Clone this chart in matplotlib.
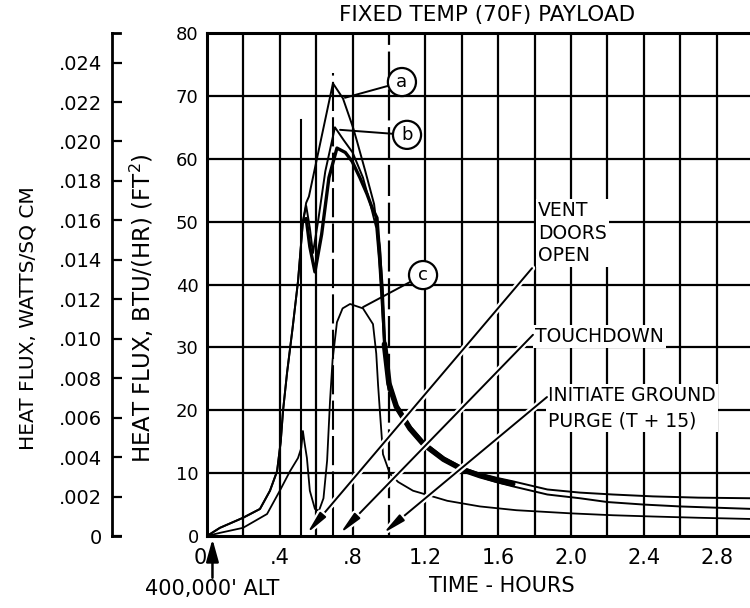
import numpy as np
import matplotlib
matplotlib.use("Agg")
import matplotlib.pyplot as plt
import matplotlib.patheffects as pe

# curva (a)
a_t = [0, 0.071, 0.198, 0.291, 0.346, 0.385, 0.405, 0.418, 0.44, 0.47, 0.50, 0.527, 0.545, 0.56,
       0.692, 0.747, 0.802, 0.824, 0.87, 0.918, 0.934, 0.951, 0.962, 0.975, 1.0, 1.04, 1.115, 1.19,
       1.30, 1.41, 1.50, 1.60, 1.68, 1.87, 2.05, 2.23, 2.45, 2.70, 3.0]
a_q = [0, 1.3, 2.9, 4.3, 7.2, 10.3, 15.0, 20.0, 26.0, 33.0, 40.5, 50.0, 53.0, 54.0,
       72.0, 69.6, 65.0, 62.8, 58.0, 52.8, 49.0, 45.8, 40.0, 32.0, 25.0, 21.0, 17.5, 15.0,
       12.5, 10.8, 9.9, 9.2, 8.7, 7.4, 6.9, 6.6, 6.3, 6.1, 6.0]

# curva (b)
b_t = [0, 0.071, 0.198, 0.291, 0.346, 0.385, 0.405, 0.418, 0.44, 0.47, 0.50, 0.527, 0.545, 0.565,
       0.582, 0.61, 0.65, 0.703, 0.75, 0.80, 0.857, 0.90, 0.93, 0.945, 0.96, 0.975, 1.0, 1.04,
       1.115, 1.19, 1.30, 1.41, 1.50, 1.60, 1.68, 1.87, 2.05, 2.20, 2.40, 2.60, 2.80, 3.0]
b_q = [0, 1.3, 2.9, 4.3, 7.2, 10.3, 15.0, 20.0, 26.0, 33.0, 40.5, 50.0, 52.5, 49.0,
       45.0, 50.0, 58.0, 65.0, 63.0, 61.0, 57.0, 52.5, 49.0, 44.0, 37.0, 30.0, 23.4, 20.2,
       16.8, 14.3, 12.0, 10.3, 9.4, 8.5, 7.9, 6.6, 6.0, 5.4, 5.0, 4.7, 4.5, 4.3]

# borde inferior de la banda (b)
b2_t = [0.527, 0.545, 0.565, 0.593, 0.63, 0.67, 0.714, 0.76, 0.797, 0.84, 0.879, 0.91, 0.934,
        0.951, 0.962, 0.975, 1.0]
b2_q = [50.0, 50.5, 46.0, 42.0, 48.0, 57.0, 61.7, 61.0, 59.6, 57.0, 54.4, 52.0, 50.6,
        43.7, 39.4, 31.0, 23.4]

# banda gruesa de la cola
band_t = [0.975, 1.0, 1.04, 1.115, 1.19, 1.30, 1.41, 1.50, 1.60, 1.68]
band_q = [30.5, 24.2, 20.6, 17.1, 14.6, 12.2, 10.5, 9.6, 8.8, 8.3]

# curva (c)
c_t = [0, 0.071, 0.198, 0.33, 0.40, 0.456, 0.50, 0.518, 0.527, 0.535, 0.549, 0.565, 0.593, 0.615,
       0.64, 0.66, 0.676, 0.69, 0.714, 0.745, 0.786, 0.857, 0.912, 0.93, 0.94, 0.951, 0.967,
       1.005, 1.05, 1.132, 1.25, 1.32, 1.50, 1.70, 2.0, 2.23, 2.45, 2.70, 3.0]
c_q = [0, 0.5, 1.3, 3.5, 7.2, 10.3, 12.4, 14.0, 16.7, 15.0, 12.4, 7.2, 4.3, 4.0,
       6.0, 12.0, 21.5, 28.0, 34.0, 36.2, 36.9, 36.2, 33.7, 29.0, 24.0, 19.4, 13.0,
       9.9, 8.6, 7.2, 6.2, 5.6, 4.7, 4.1, 3.6, 3.3, 3.1, 2.9, 2.7]

# lineas verticales (transitorios)
spike_t = [0.515, 0.692]
spike_top = [66.2, 73.6]

x_ticks = [0, 0.4, 0.8, 1.2, 1.6, 2.0, 2.4, 2.8]
x_tick_labels = ["0", ".4", ".8", "1.2", "1.6", "2.0", "2.4", "2.8"]
y_ticks = [0, 10, 20, 30, 40, 50, 60, 70, 80]
w_ticks = [0, 0.002, 0.004, 0.006, 0.008, 0.010, 0.012, 0.014, 0.016, 0.018, 0.020, 0.022, 0.024]
w_tick_labels = ["0", ".002", ".004", ".006", ".008", ".010", ".012", ".014", ".016",
                 ".018", ".020", ".022", ".024"]

W, H = 750, 608
fig = plt.figure(figsize=(7.5, 6.08), dpi=100)
fig.patch.set_facecolor("white")

ax = fig.add_axes([207 / W, 72 / H, 546 / W, 503 / H])
ax.set_xlim(0, 3.0)
ax.set_ylim(0, 80)

# cuadricula
for t in np.arange(0.2, 3.01, 0.2):
    ls = (0, (14, 3)) if abs(t - 1.0) < 1e-6 else "-"
    ax.axvline(t, color="black", lw=1.6, ls=ls, zorder=1)
for q in range(10, 80, 10):
    ax.axhline(q, color="black", lw=1.6, zorder=1)

ax.spines["right"].set_visible(False)
for s in ["left", "bottom", "top"]:
    ax.spines[s].set_linewidth(2.2)

ax.set_xticks(x_ticks)
ax.set_xticklabels(x_tick_labels, fontsize=15)
ax.get_xticklabels()[0].set_horizontalalignment("right")
ax.set_yticks(y_ticks)
ax.set_yticklabels([str(v) for v in y_ticks], fontsize=13)
ax.tick_params(axis="x", length=0, pad=9)
ax.tick_params(axis="y", length=0, pad=6)

ax.set_ylabel("HEAT FLUX, BTU/(HR) (FT$^2$)", fontsize=16.5)
ax.yaxis.set_label_coords((156 - 207) / 546, (536 - 308) / 503)
ax.set_xlabel("TIME - HOURS", fontsize=15)
ax.xaxis.set_label_coords((502 - 207) / 546, (536 - 576) / 503)

fig.text(487 / W, 1 - 15 / H, "FIXED TEMP (70F) PAYLOAD", fontsize=15.5, ha="center", va="center")

# curvas
ax.plot(a_t, a_q, color="black", lw=1.4, zorder=3)
ax.plot(b_t, b_q, color="black", lw=1.4, zorder=3)
ax.plot(b2_t, b2_q, color="black", lw=2.4, zorder=3)
ax.plot(band_t, band_q, color="black", lw=4, zorder=3, solid_capstyle="round")
ax.plot(c_t, c_q, color="black", lw=1.3, zorder=3)
ax.plot([spike_t[0]] * 2, [0, spike_top[0]], color="black", lw=1.5, zorder=3)
ax.plot([spike_t[1]] * 2, [0, spike_top[1]], color="black", lw=1.5, ls=(0, (14, 3)), zorder=3)

# etiquetas a, b, c
circ = dict(boxstyle="circle,pad=0.28", fc="white", ec="black", lw=1.6)
lead = dict(arrowstyle="-", lw=1.4, color="black", shrinkA=0, shrinkB=0)
ax.annotate("a", xy=(0.758, 69.7), xytext=(1.071, 72.2), fontsize=13, ha="center", va="center",
            bbox=circ, arrowprops=lead, zorder=5)
ax.annotate("b", xy=(0.731, 64.6), xytext=(1.099, 63.8), fontsize=13, ha="center", va="center",
            bbox=circ, arrowprops=lead, zorder=5)
ax.annotate("c", xy=(0.857, 36.4), xytext=(1.187, 41.5), fontsize=13, ha="center", va="center",
            bbox=circ, arrowprops=lead, zorder=5)

# eventos
white = dict(fc="white", ec="none", pad=1.5)
arr = dict(arrowstyle="-|>,head_length=0.75,head_width=0.13", mutation_scale=18, lw=1.4,
           color="black", shrinkA=0, shrinkB=0,
           path_effects=[pe.withStroke(linewidth=4.5, foreground="white")])

ax.text(1.819, 53.3, "VENT\nDOORS\nOPEN", fontsize=13.5, ha="left", va="top", linespacing=1.25,
        bbox=white, zorder=4)
ax.annotate("", xy=(0.549, 0.4), xytext=(1.786, 42.6), arrowprops=arr, zorder=4)

ax.text(1.802, 31.7, "TOUCHDOWN", fontsize=13.5, ha="left", va="center", bbox=white, zorder=4)
ax.annotate("", xy=(0.731, 0.4), xytext=(1.791, 32.0), arrowprops=arr, zorder=4)

ax.text(1.874, 23.8, "INITIATE GROUND\nPURGE (T + 15)", fontsize=13.5, ha="left", va="top",
        linespacing=1.4, bbox=white, zorder=4)
ax.annotate("", xy=(0.967, 0.4), xytext=(1.868, 22.1), arrowprops=arr, zorder=4)

# 400,000' ALT
ax.text(0.027, -0.105, "400,000' ALT", transform=ax.get_xaxis_transform(), fontsize=15,
        ha="center", va="center", clip_on=False)
ax.annotate("", xy=(0.03, -0.006), xycoords=ax.get_xaxis_transform(),
            xytext=(0.03, -0.083), textcoords=ax.get_xaxis_transform(), annotation_clip=False,
            arrowprops=dict(arrowstyle="-|>,head_length=0.9,head_width=0.25", mutation_scale=15,
                            lw=1.8, color="black", shrinkA=0, shrinkB=0))

# eje secundario W/cm2
ax2 = fig.add_axes([112 / W, 72 / H, 8 / W, 503 / H])
ax2.set_facecolor("none")
ax2.set_ylim(0, 0.0255)
ax2.set_xticks([])
ax2.spines["right"].set_visible(False)
for s in ["left", "top", "bottom"]:
    ax2.spines[s].set_linewidth(2)
ax2.set_yticks(w_ticks)
ax2.set_yticklabels(w_tick_labels, fontsize=14)
ax2.tick_params(axis="y", direction="in", length=7, width=1.6, pad=7)
ax2.set_ylabel("HEAT FLUX, WATTS/SQ CM", fontsize=14.5)
ax2.yaxis.set_label_coords((37 - 112) / 8, (536 - 318) / 503)

fig.savefig("out.png", dpi=100)
